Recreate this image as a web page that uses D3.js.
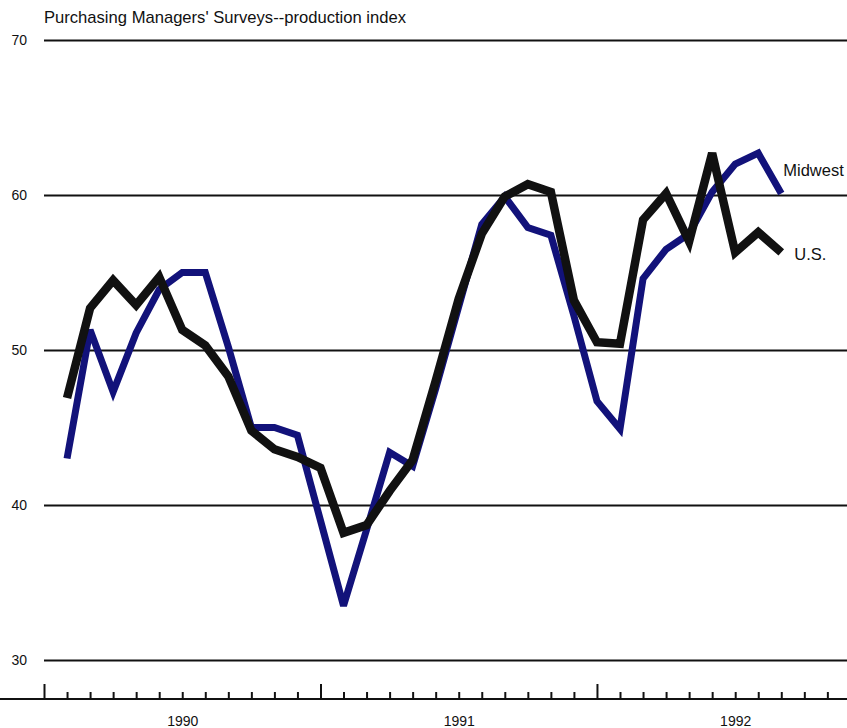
<!DOCTYPE html>
<html>
<head>
<meta charset="utf-8">
<script src="https://cdn.jsdelivr.net/npm/d3@7"></script>
<style>
  html, body { margin: 0; padding: 0; background: #fff; }
  svg { display: block; }
  text { font-family: "Liberation Sans", Arial, Helvetica, sans-serif; fill: #111; }
</style>
</head>
<body>
<svg id="chart" width="847" height="728"></svg>
<script>
// ---- data ----
const months = ["1990-02","1990-03","1990-04","1990-05","1990-06","1990-07","1990-08","1990-09","1990-10","1990-11","1990-12",
  "1991-01","1991-02","1991-03","1991-04","1991-05","1991-06","1991-07","1991-08","1991-09","1991-10","1991-11","1991-12",
  "1992-01","1992-02","1992-03","1992-04","1992-05","1992-06","1992-07","1992-08","1992-09"];
const usValues = [46.9, 52.7, 54.5, 52.9, 54.7, 51.3, 50.3, 48.3, 44.8, 43.6, 43.1, 42.4,
  38.2, 38.7, 40.9, 42.9, 48.0, 53.3, 57.5, 59.9, 60.7, 60.2, 53.2, 50.5,
  50.4, 58.4, 60.1, 57.0, 62.7, 56.3, 57.6, 56.3];
const midwestValues = [43.0, 51.3, 47.3, 51.1, 53.9, 55.0, 55.0, 50.2, 45.0, 45.0, 44.5, 39.0,
  33.5, 38.4, 43.4, 42.5, 47.5, 52.8, 58.1, 59.9, 57.9, 57.4, 52.2, 46.7,
  44.9, 54.6, 56.5, 57.5, 60.2, 62.0, 62.7, 60.1];
const yTicks = [30, 40, 50, 60, 70];
const yearLabels = ["1990", "1991", "1992"];
const title = "Purchasing Managers' Surveys--production index";

// ---- helpers ----
const monthIndex = s => (+s.slice(0, 4) - 1990) * 12 + (+s.slice(5, 7) - 1);

const svg = d3.select("#chart");
const x = d3.scaleLinear().domain([0, 36]).range([44, 44 + 36 * 23.04]);
const y = d3.scaleLinear().domain([30, 70]).range([660, 40]);

// title
svg.append("text").attr("x", 44).attr("y", 23)
  .attr("font-size", 16.6).text(title);

// gridlines + y labels
const yAxis = d3.axisLeft(y).tickValues(yTicks).tickSize(-(847 - 44)).tickFormat(d3.format("d"));
const gy = svg.append("g").attr("transform", "translate(44,0)").call(yAxis);
gy.select(".domain").remove();
gy.selectAll(".tick line").attr("stroke", "#111").attr("stroke-width", 2);
gy.selectAll(".tick text").attr("x", -17).attr("font-size", 14)
  .attr("font-family", "Liberation Sans, Arial, sans-serif").attr("fill", "#111");

// x axis (month ticks)
const axisY = 699;
const monthTicks = d3.range(0, 35);
const xAxis = d3.axisBottom(x).tickValues(monthTicks).tickSize(0).tickFormat("");
const gx = svg.append("g").attr("transform", `translate(0,${axisY})`).call(xAxis);
gx.select(".domain").remove();
gx.selectAll(".tick line")
  .attr("y1", 0)
  .attr("y2", d => d % 12 === 0 ? -15 : -7)
  .attr("stroke", "#111").attr("stroke-width", 2);
svg.append("line").attr("x1", 0).attr("x2", 847).attr("y1", axisY).attr("y2", axisY)
  .attr("stroke", "#111").attr("stroke-width", 2);

// year labels centred in each year
const yearAxis = d3.axisBottom(x).tickValues([6, 18, 30]).tickSize(0)
  .tickFormat((d, i) => yearLabels[i]);
const gYear = svg.append("g").attr("transform", `translate(0,${axisY})`).call(yearAxis);
gYear.select(".domain").remove();
gYear.selectAll(".tick text").attr("dy", 0).attr("y", 27).attr("font-size", 14)
  .attr("font-family", "Liberation Sans, Arial, sans-serif").attr("fill", "#111");

// lines
const line = d3.line().x(d => x(d.m)).y(d => y(d.v)).curve(d3.curveLinear);
const mw = months.map((m, i) => ({ m: monthIndex(m), v: midwestValues[i] }));
const us = months.map((m, i) => ({ m: monthIndex(m), v: usValues[i] }));

svg.append("path").datum(mw).attr("d", line)
  .attr("fill", "none").attr("stroke", "#12127a").attr("stroke-width", 7)
  .attr("stroke-linejoin", "miter").attr("stroke-miterlimit", 3);
svg.append("path").datum(us).attr("d", line)
  .attr("fill", "none").attr("stroke", "#111").attr("stroke-width", 8.5)
  .attr("stroke-linejoin", "miter").attr("stroke-miterlimit", 3);

// series labels
const lastMw = mw[mw.length - 1], lastUs = us[us.length - 1];
svg.append("text").attr("x", x(lastMw.m) + 2).attr("y", y(lastMw.v) - 17)
  .attr("font-size", 16.5).text("Midwest");
svg.append("text").attr("x", x(lastUs.m) + 13).attr("y", y(lastUs.v) + 8)
  .attr("font-size", 16.5).text("U.S.");
</script>
</body>
</html>
